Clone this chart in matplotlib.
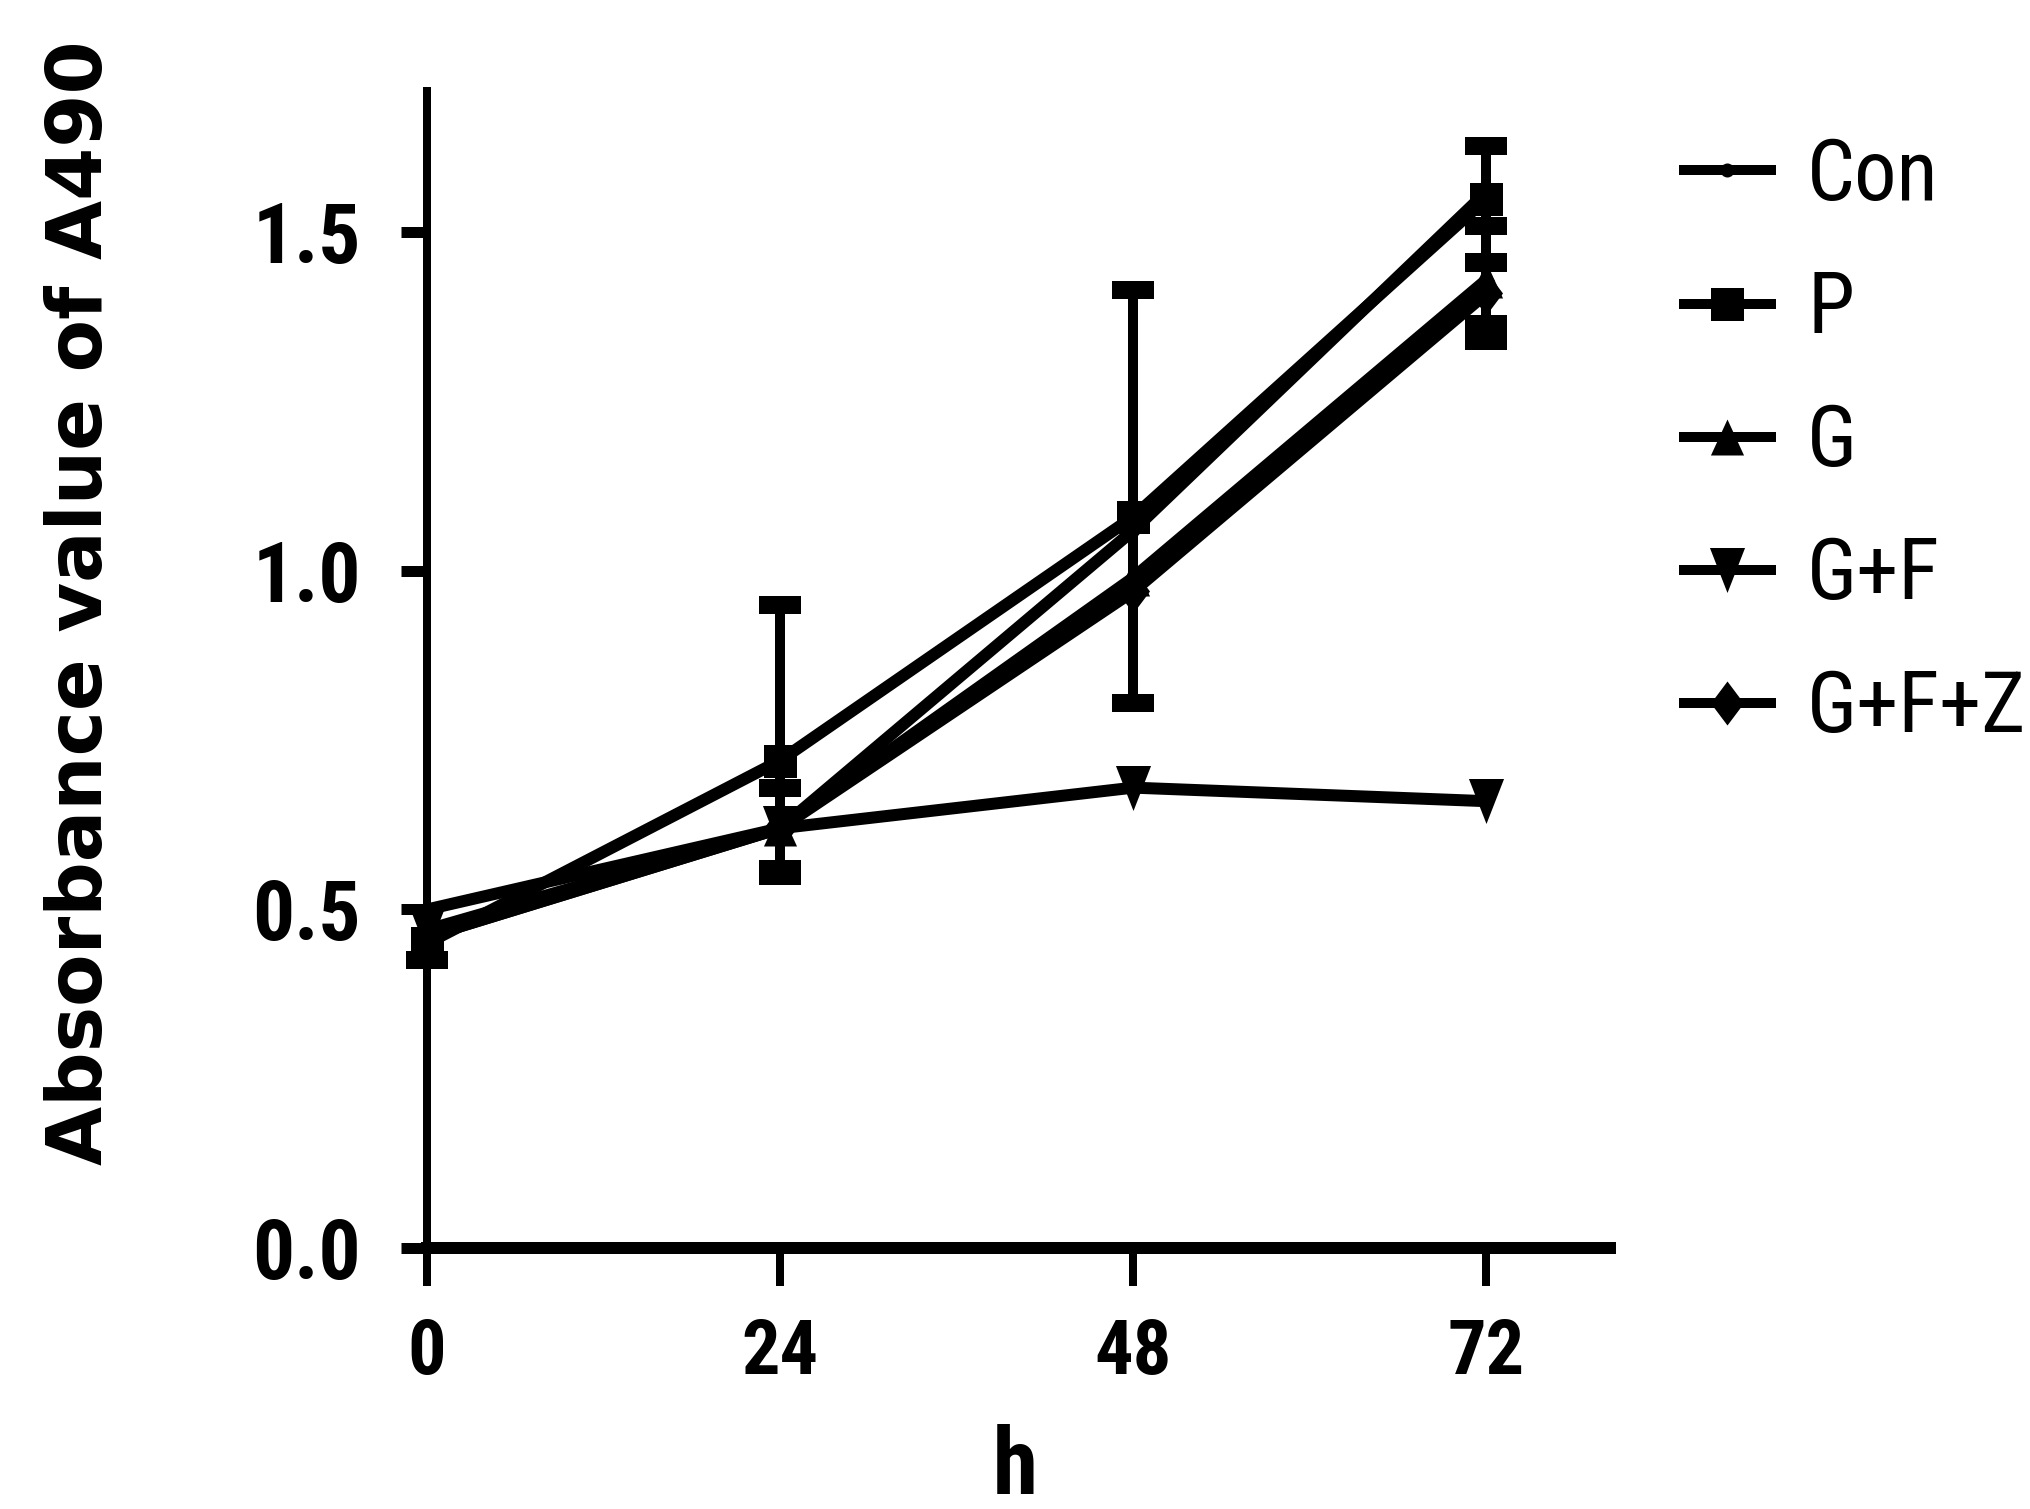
import numpy as np
import matplotlib
matplotlib.use("Agg")
import matplotlib.pyplot as plt
from matplotlib.lines import Line2D
from matplotlib import font_manager as fm

# data (absorbance at 490 nm)
hours = [0, 24, 48, 72]
labels = ["Con", "P", "G", "G+F", "G+F+Z"]

con = [0.50, 0.62, 1.06, 1.56]
p = [0.45, 0.72, 1.08, 1.55]
g = [0.46, 0.62, 0.99, 1.43]
gf = [0.47, 0.62, 0.68, 0.66]
gfz = [0.46, 0.62, 0.97, 1.41]

# error bars (lower, upper)
con_lo = [0, 0, 0, 0]
con_hi = [0, 0, 0, 0]
p_lo = [0.025, 0.17, 0.275, 0.093]
p_hi = [0.0, 0.23, 0.335, 0.078]
g_lo = [0, 0, 0, 0.09]
g_hi = [0, 0, 0, 0.08]
gf_lo = [0, 0, 0, 0]
gf_hi = [0, 0, 0, 0]
gfz_lo = [0, 0.06, 0, 0.045]
gfz_hi = [0, 0.06, 0, 0.045]

yticks = [0.0, 0.5, 1.0, 1.5]
ytick_labels = ["0.0", "0.5", "1.0", "1.5"]

PX = 0.72  # points per pixel at dpi 100

# pick a condensed face for the horizontal texts if one is installed
names = {f.name for f in fm.fontManager.ttflist}
narrow_list = [n for n in ["Liberation Sans Narrow", "Roboto Condensed",
                           "DejaVu Sans Condensed", "Open Sans Condensed"] if n in names]
has_narrow = len(narrow_list) > 0
narrow = narrow_list + ["Liberation Sans", "DejaVu Sans"]

tri_up = [(-0.92, -1), (0.92, -1), (0, 1)]
tri_down = [(-0.78, 1), (0.78, 1), (0, -1)]
diamond = [(0, 1), (0.75, 0), (0, -1), (-0.75, 0)]
markers = [("o", 14), ("s", 33), (tri_up, 36), (tri_down, 45), (diamond, 44)]

series = [con, p, g, gf, gfz]
lows = [con_lo, p_lo, g_lo, gf_lo, gfz_lo]
highs = [con_hi, p_hi, g_hi, gf_hi, gfz_hi]

fig = plt.figure(figsize=(20.31, 15.09), dpi=100)
ax = fig.add_axes([427 / 2031, 1 - 1248 / 1509, (1610 - 427) / 2031, (1248 - 91) / 1509])


def draw_err(x, y, lo, hi):
    for xi, yi, l, h in zip(x, y, lo, hi):
        for end in [yi - l if l > 0 else None, yi + h if h > 0 else None]:
            if end is None:
                continue
            ax.vlines(xi, min(yi, end), max(yi, end), color="black",
                      lw=10 * PX, clip_on=False, zorder=4)
            ax.plot([xi], [end], marker="_", color="black", ms=43 * PX,
                    mew=18 * PX, clip_on=False, zorder=4)


lw = 12 * PX
for vals, lo, hi, (mk, ms) in zip(series, lows, highs, markers):
    draw_err(hours, vals, lo, hi)
    ax.plot(hours, vals, color="black", lw=lw, marker=mk, markersize=ms * PX,
            markerfacecolor="black", markeredgewidth=0, clip_on=False, zorder=5)

ax.set_xlim(0, 80.4)
ax.set_ylim(0, 1.709)
ax.set_xticks(hours)
ax.set_yticks(yticks)
ax.set_yticklabels(ytick_labels)

for s in ["top", "right"]:
    ax.spines[s].set_visible(False)
ax.spines["left"].set_linewidth(8 * PX)
ax.spines["bottom"].set_linewidth(12 * PX)

ytick_size = 60 if has_narrow else 56
xtick_size = 55 if has_narrow else 52
ax.tick_params(axis="y", length=26 * PX, width=11 * PX, pad=40 * PX)
ax.tick_params(axis="x", length=38 * PX, width=8 * PX, pad=31 * PX)
for t in ax.get_yticklabels():
    t.set_fontfamily(narrow)
    t.set_fontweight("bold")
    t.set_fontsize(ytick_size)
for t in ax.get_xticklabels():
    t.set_fontfamily(narrow)
    t.set_fontweight("bold")
    t.set_fontsize(xtick_size)

fig.text(1015 / 2031, 1 - 1468 / 1509, "h", fontsize=66, fontweight="bold",
         family=narrow, ha="center", va="center")
fig.text(81 / 2031, 1 - 603 / 1509, "Absorbance value of A490", fontsize=55,
         fontweight="bold", family=["DejaVu Sans"], rotation=90,
         ha="center", va="center")

# legend, rows every 132 px
leg_size = 61 if has_narrow else 52
em = leg_size / PX
row_act = 0.943 * em
handles = []
for lab, (mk, ms) in zip(labels, markers):
    handles.append(Line2D([], [], color="black", lw=10 * PX, marker=mk,
                          markersize=ms * PX, markeredgewidth=0,
                          markerfacecolor="black", label=lab))
fig.legend(handles=handles, loc="upper left",
           bbox_to_anchor=(1684 / 2031, 1 - (176 - row_act / 2) / 1509),
           frameon=False, prop={"family": narrow, "size": leg_size},
           handlelength=62.6 / leg_size, handletextpad=26 / leg_size,
           labelspacing=(132 - row_act) / em, borderpad=0, borderaxespad=0)

fig.savefig("out.png", dpi=100)
